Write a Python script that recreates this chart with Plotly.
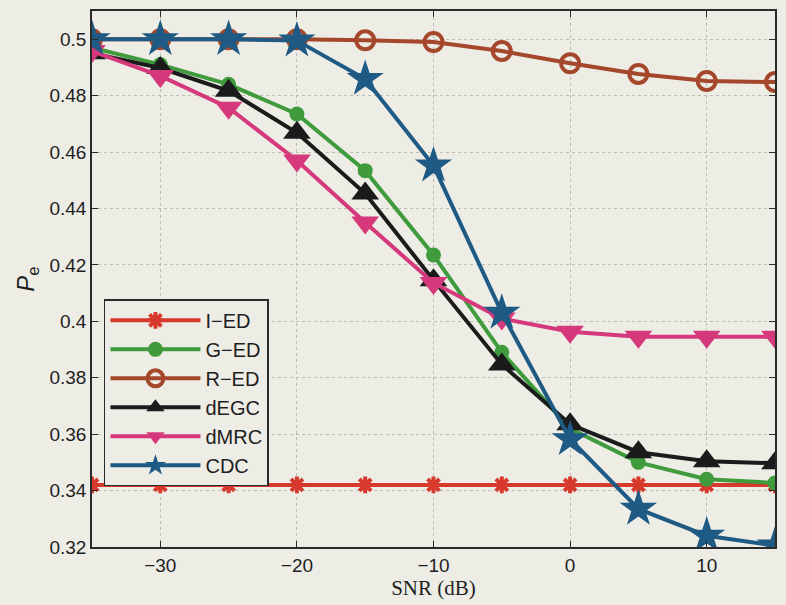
import plotly.graph_objects as go

# SNR sweep (dB)
snr_db = [-35, -30, -25, -20, -15, -10, -5, 0, 5, 10, 15]

# Error probability P_e for each detection scheme
pe_ied = [0.342, 0.342, 0.342, 0.342, 0.342, 0.342, 0.342, 0.342, 0.342, 0.342, 0.342]
pe_ged = [0.497, 0.491, 0.484, 0.4735, 0.4534, 0.4235, 0.389, 0.362, 0.350, 0.344, 0.3427]
pe_red = [0.500, 0.500, 0.500, 0.500, 0.4996, 0.499, 0.4958, 0.4915, 0.4877, 0.4852, 0.4848]
pe_degc = [0.495, 0.4898, 0.4817, 0.4668, 0.4453, 0.4146, 0.3847, 0.3635, 0.3536, 0.3504, 0.3497]
pe_dmrc = [0.4958, 0.487, 0.4757, 0.457, 0.435, 0.4136, 0.401, 0.3963, 0.3945, 0.3945, 0.3945]
pe_cdc = [0.500, 0.500, 0.500, 0.4995, 0.4859, 0.4552, 0.403, 0.3582, 0.3335, 0.324, 0.3205]

series_names = ["I\u2212ED", "G\u2212ED", "R\u2212ED", "dEGC", "dMRC", "CDC"]

y_ticks = [0.32, 0.34, 0.36, 0.38, 0.40, 0.42, 0.44, 0.46, 0.48, 0.50]
y_tick_text = ["0.32", "0.34", "0.36", "0.38", "0.4", "0.42", "0.44", "0.46", "0.48", "0.5"]
x_ticks = [-30, -20, -10, 0, 10]
x_tick_text = ["\u221230", "\u221220", "\u221210", "0", "10"]

paper = "#edede6"
lw = 4

styles = [
    dict(color="#d73a2c", symbol="asterisk-open", size=14, mline=4, mcolor="#d73a2c"),
    dict(color="#3f9b3c", symbol="circle", size=15, mline=0, mcolor="#3f9b3c"),
    dict(color="#a4472b", symbol="circle-open", size=18, mline=4, mcolor="#a4472b"),
    dict(color="#1b1b1b", symbol="triangle-up", size=24, mline=0, mcolor="#1b1b1b"),
    dict(color="#d6397b", symbol="triangle-down", size=24, mline=0, mcolor="#d6397b"),
    dict(color="#1f5a84", symbol="star", size=28, mline=0, mcolor="#1f5a84"),
]
series = [pe_ied, pe_ged, pe_red, pe_degc, pe_dmrc, pe_cdc]

fig = go.Figure()
for name, ys, st in zip(series_names, series, styles):
    fig.add_trace(go.Scatter(
        x=snr_db, y=ys, name=name, mode="lines+markers",
        line=dict(color=st["color"], width=lw),
        marker=dict(symbol=st["symbol"], size=st["size"], color=st["mcolor"],
                    line=dict(width=st["mline"], color=st["mcolor"])),
    ))

axis_common = dict(
    showline=True, linecolor="#2a2a2a", linewidth=1.5, mirror="ticks",
    ticks="inside", ticklen=6, tickwidth=1.2, tickcolor="#2a2a2a",
    showgrid=True, gridcolor="#bdbdb5", griddash="dot", gridwidth=1.3,
    zeroline=False,
    tickfont=dict(family="Liberation Sans, Arial", size=19, color="#1e1e1e"),
)

fig.update_layout(
    width=786, height=605,
    margin=dict(l=92, r=9, t=9, b=57),
    paper_bgcolor=paper, plot_bgcolor=paper,
    showlegend=True,
    legend=dict(
        x=0.0175, y=0.462, xanchor="left", yanchor="top",
        bgcolor=paper, bordercolor="#2a2a2a", borderwidth=1.5,
        font=dict(family="Liberation Sans, Arial", size=20, color="#1e1e1e"),
        itemwidth=90, tracegroupgap=0,
        entrywidth=100, entrywidthmode="pixels",
    ),
    xaxis=dict(range=[-35, 15], tickvals=x_ticks, ticktext=x_tick_text,
               title=dict(text="SNR (dB)", standoff=6,
                          font=dict(family="Liberation Serif, Times New Roman", size=21, color="#1e1e1e")),
               **axis_common),
    yaxis=dict(range=[0.32, 0.51], tickvals=y_ticks, ticktext=y_tick_text,
               title=dict(text="<i>P</i><sub>e</sub>", standoff=8,
                          font=dict(family="Liberation Sans, Arial", size=24, color="#1e1e1e")),
               **axis_common),
)

fig.write_html("out.html")
